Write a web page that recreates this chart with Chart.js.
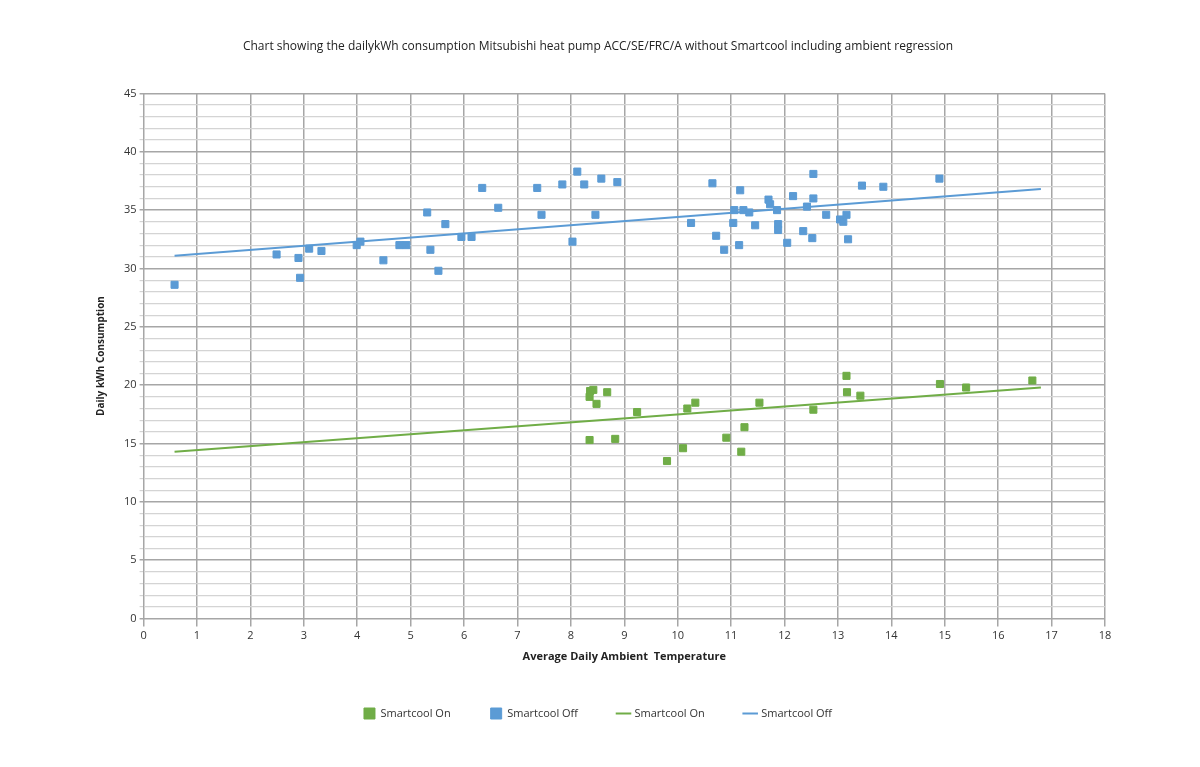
<!DOCTYPE html>
<html><head><meta charset="utf-8">
<script src="https://cdn.jsdelivr.net/npm/chart.js@4/dist/chart.umd.min.js"></script>
<style>html,body{margin:0;background:#fff}#w{width:1200px;height:767px}</style>
</head><body><div id="w"><canvas id="c"></canvas></div>
<script>
const onX=[8.36,8.42,8.35,8.48,8.68,8.35,8.83,9.24,9.8,10.1,10.18,10.33,10.91,11.19,11.25,11.53,12.54,13.16,13.17,13.42,14.91,15.4,16.64];
const onY=[19.5,19.6,19.0,18.4,19.4,15.3,15.4,17.7,13.5,14.6,18.0,18.5,15.5,14.3,16.4,18.5,17.9,20.8,19.4,19.1,20.1,19.8,20.4];
const offX=[0.58,2.49,2.90,2.93,3.1,3.33,3.99,4.06,4.49,4.79,4.92,5.31,5.37,5.52,5.65,5.95,6.14,6.34,6.64,7.37,7.45,7.84,8.03,8.12,8.25,8.46,8.57,8.87,10.25,10.65,10.72,10.87,11.04,11.06,11.15,11.17,11.23,11.34,11.45,11.7,11.73,11.86,11.88,11.88,12.05,12.16,12.35,12.42,12.52,12.54,12.54,12.78,13.04,13.1,13.16,13.19,13.45,13.85,14.9];
const offY=[28.6,31.2,30.9,29.2,31.7,31.5,32.0,32.3,30.7,32.0,32.0,34.8,31.6,29.8,33.8,32.7,32.7,36.9,35.2,36.9,34.6,37.2,32.3,38.3,37.2,34.6,37.7,37.4,33.9,37.3,32.8,31.6,33.9,35.0,32.0,36.7,35.0,34.8,33.7,35.9,35.5,35.0,33.8,33.3,32.2,36.2,33.2,35.3,32.6,36.0,38.1,34.6,34.2,34.0,34.6,32.5,37.1,37.0,37.7];
const trendX=[0.58,16.8];
const onTrendY=[14.3,19.8];
const offTrendY=[31.1,36.8];
const green='#70ad47', blue='#5b9bd5';
const pts=(xs,ys)=>xs.map((x,i)=>({x,y:ys[i]}));
const F='"Open Sans", "Liberation Sans", sans-serif';
new Chart(document.getElementById('c'),{
 type:'scatter',
 data:{datasets:[
  {label:'Smartcool On',data:pts(onX,onY),pointStyle:'rect',pointRadius:5,backgroundColor:green,borderColor:green},
  {label:'Smartcool Off',data:pts(offX,offY),pointStyle:'rect',pointRadius:5,backgroundColor:blue,borderColor:blue},
  {label:'Smartcool On',type:'line',data:pts(trendX,onTrendY),borderColor:green,backgroundColor:green,borderWidth:2,pointRadius:0,pointStyle:'line'},
  {label:'Smartcool Off',type:'line',data:pts(trendX,offTrendY),borderColor:blue,backgroundColor:blue,borderWidth:2,pointRadius:0,pointStyle:'line'}
 ]},
 options:{responsive:true,maintainAspectRatio:false,animation:false,
  layout:{padding:{left:91,right:95,top:28,bottom:38}},
  plugins:{
   title:{display:true,text:'Chart showing the dailykWh consumption Mitsubishi heat pump ACC/SE/FRC/A without Smartcool including ambient regression',color:'#222',font:{family:F,size:12,weight:'normal'},padding:{top:11,bottom:40}},
   legend:{position:'bottom',labels:{usePointStyle:true,color:'#333',font:{family:F,size:11},padding:40,boxWidth:30},},
   tooltip:{enabled:false}},
  scales:{
   x:{min:0,max:18,ticks:{stepSize:1,color:'#333',font:{family:F,size:11}},
      grid:{color:'#a6a6a6',lineWidth:1.5},border:{color:'#a6a6a6'},
      title:{display:true,text:'Average Daily Ambient  Temperature',color:'#222',font:{family:F,size:11,weight:'bold'},padding:{top:4,bottom:5}}},
   y:{min:0,max:45,ticks:{stepSize:1,autoSkip:false,color:'#333',font:{family:F,size:11},callback:v=>v%5===0?v:''},
      grid:{color:c=>c.tick&&c.tick.value%5===0?'#a6a6a6':'#d4d4d4',lineWidth:c=>c.tick&&c.tick.value%5===0?1.5:1.2,tickLength:4},border:{color:'#a6a6a6'},
      title:{display:true,text:'Daily kWh Consumption',color:'#222',font:{family:F,size:10,weight:'bold'},padding:{bottom:14}}}
  }}
});
</script></body></html>
